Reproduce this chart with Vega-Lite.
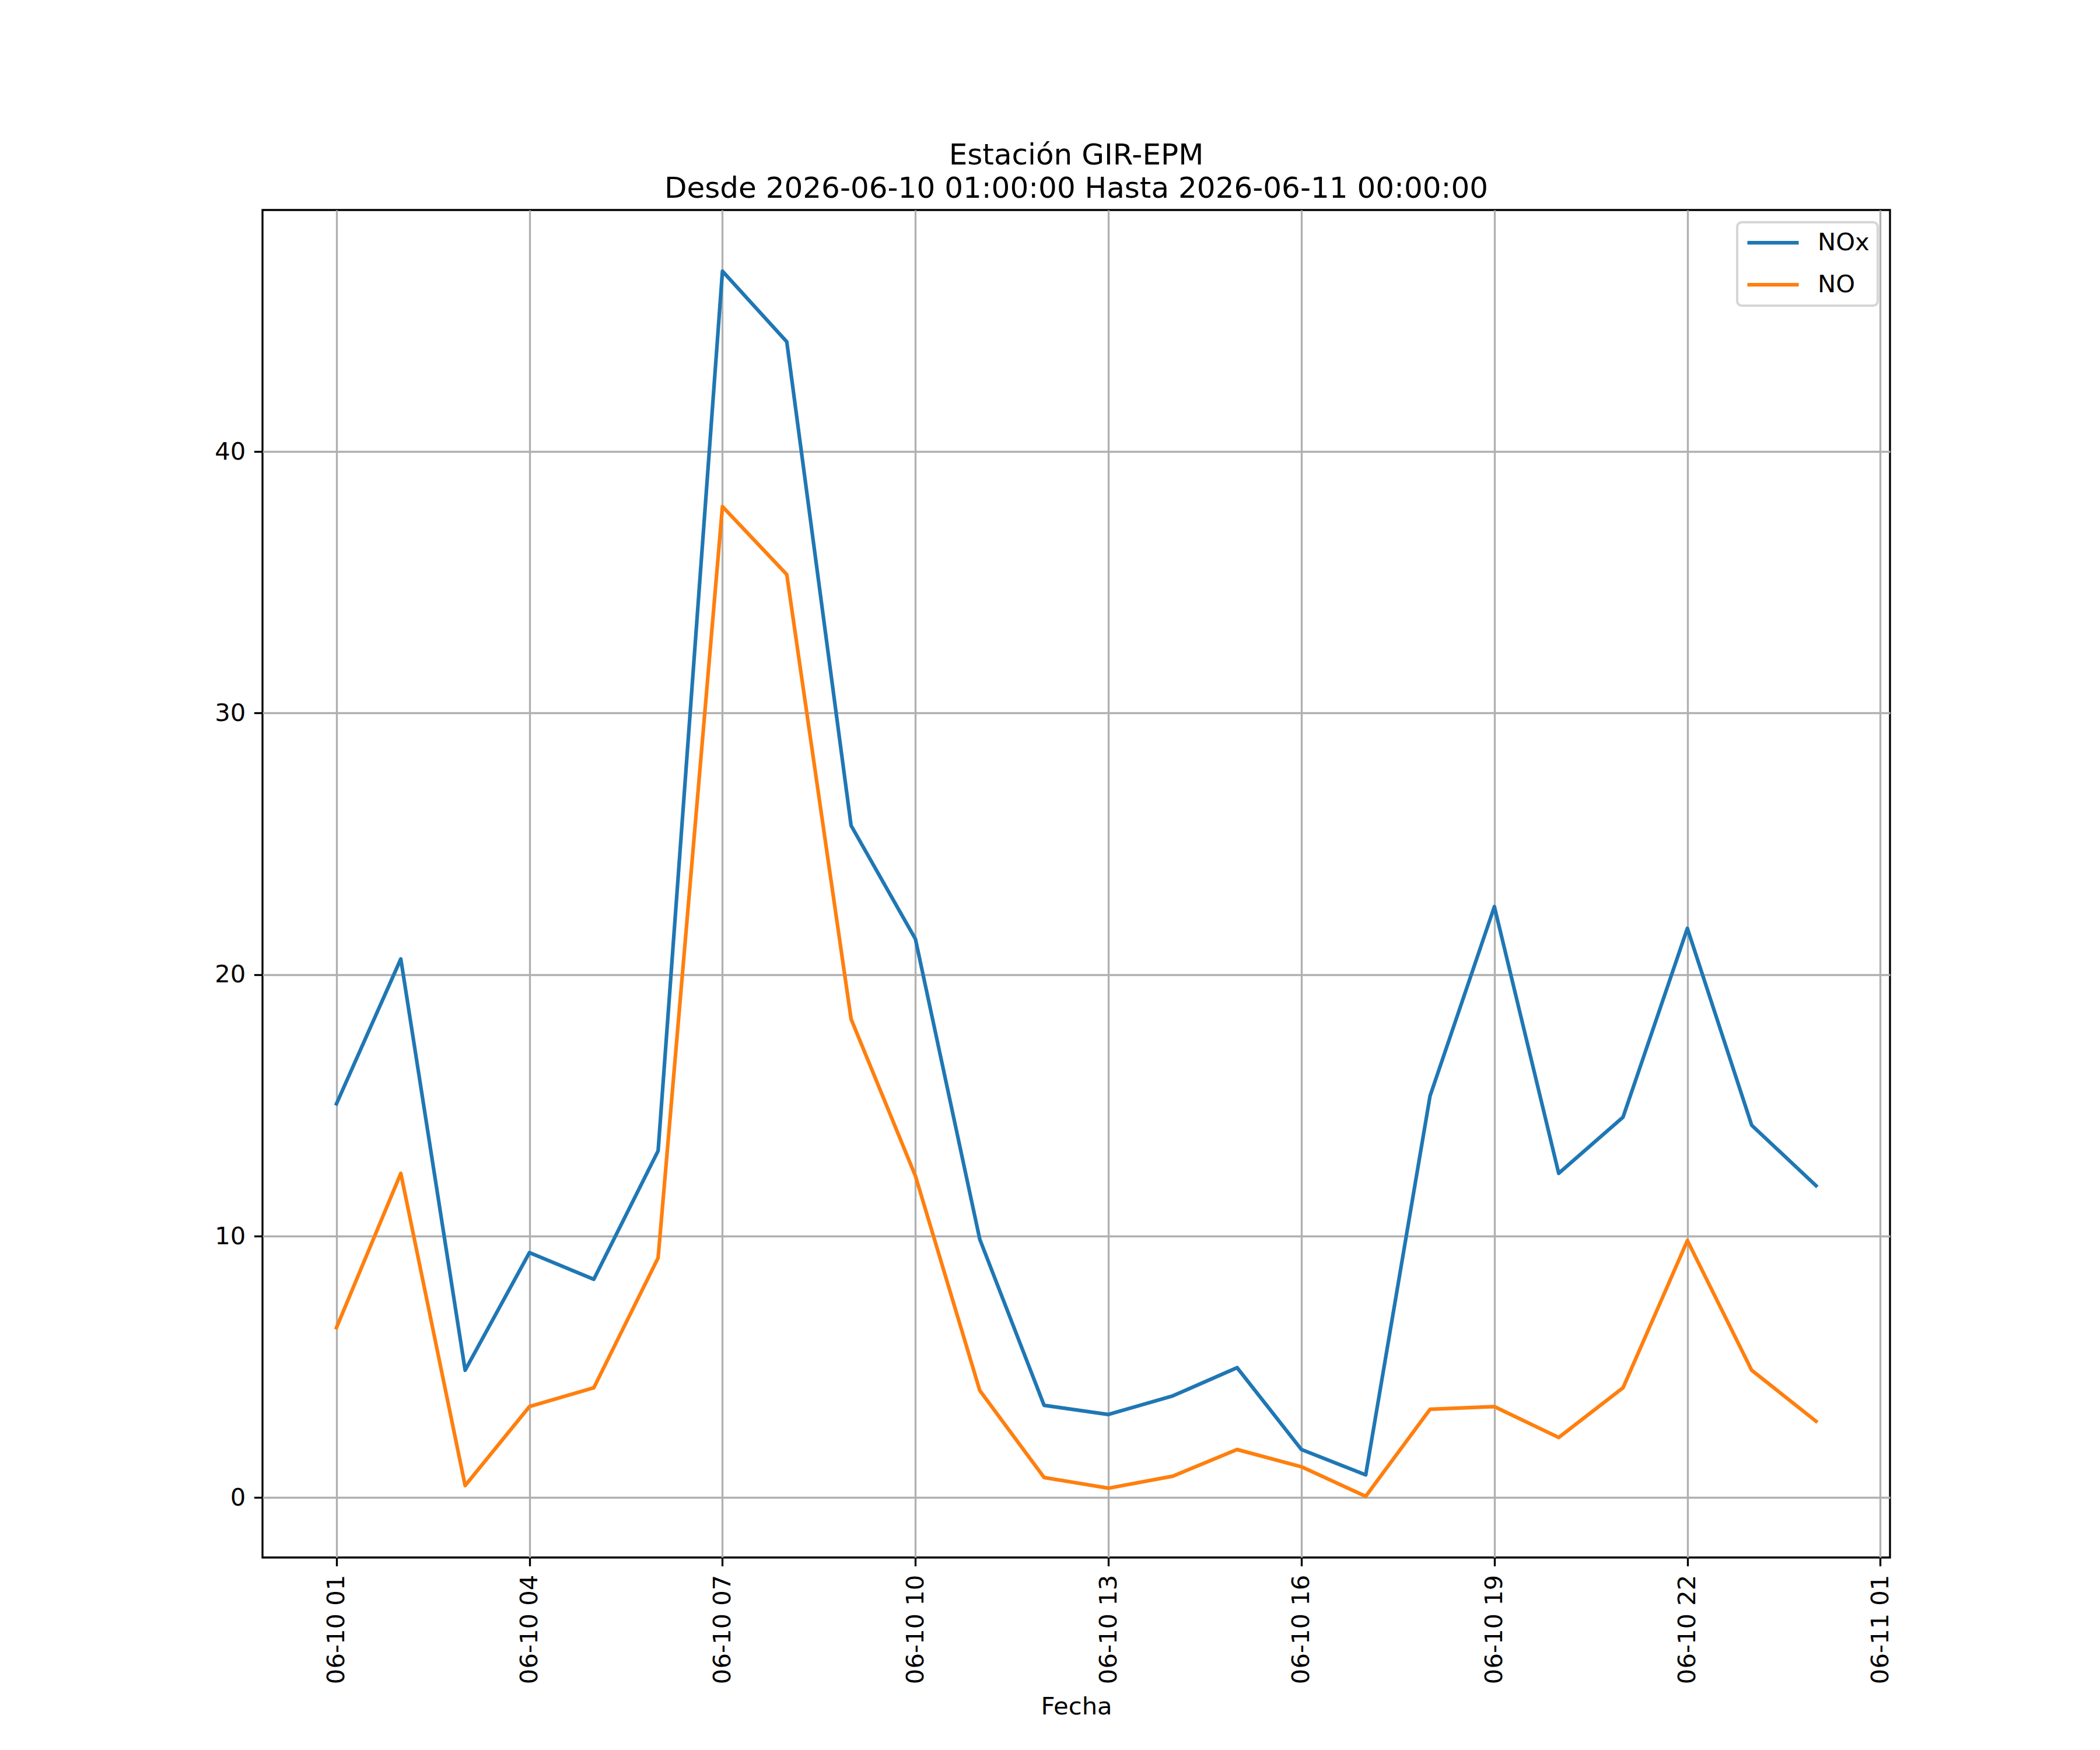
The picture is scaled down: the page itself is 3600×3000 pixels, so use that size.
{
  "$schema": "https://vega.github.io/schema/vega-lite/v6.json",
  "autosize": {"type": "none"},
  "padding": {"left": 450, "top": 360, "right": 360, "bottom": 330},
  "width": 2790,
  "height": 2310,
  "background": "white",
  "title": {
    "text": ["Estación GIR-EPM", "Desde 2026-06-10 01:00:00 Hasta 2026-06-11 00:00:00"],
    "anchor": "middle",
    "frame": "group",
    "font": "DejaVu Sans",
    "fontSize": 50,
    "fontWeight": "normal",
    "lineHeight": 57,
    "color": "black",
    "offset": 11
  },
  "data": {
    "values": [
      {"fecha": "2026-06-10T01:00:00", "serie": "NOx", "valor": 15.06},
      {"fecha": "2026-06-10T02:00:00", "serie": "NOx", "valor": 20.6},
      {"fecha": "2026-06-10T03:00:00", "serie": "NOx", "valor": 4.87},
      {"fecha": "2026-06-10T04:00:00", "serie": "NOx", "valor": 9.37},
      {"fecha": "2026-06-10T05:00:00", "serie": "NOx", "valor": 8.35},
      {"fecha": "2026-06-10T06:00:00", "serie": "NOx", "valor": 13.26},
      {"fecha": "2026-06-10T07:00:00", "serie": "NOx", "valor": 46.9},
      {"fecha": "2026-06-10T08:00:00", "serie": "NOx", "valor": 44.2},
      {"fecha": "2026-06-10T09:00:00", "serie": "NOx", "valor": 25.7},
      {"fecha": "2026-06-10T10:00:00", "serie": "NOx", "valor": 21.36},
      {"fecha": "2026-06-10T11:00:00", "serie": "NOx", "valor": 9.88},
      {"fecha": "2026-06-10T12:00:00", "serie": "NOx", "valor": 3.53},
      {"fecha": "2026-06-10T13:00:00", "serie": "NOx", "valor": 3.18},
      {"fecha": "2026-06-10T14:00:00", "serie": "NOx", "valor": 3.89},
      {"fecha": "2026-06-10T15:00:00", "serie": "NOx", "valor": 4.97},
      {"fecha": "2026-06-10T16:00:00", "serie": "NOx", "valor": 1.84},
      {"fecha": "2026-06-10T17:00:00", "serie": "NOx", "valor": 0.87},
      {"fecha": "2026-06-10T18:00:00", "serie": "NOx", "valor": 15.36},
      {"fecha": "2026-06-10T19:00:00", "serie": "NOx", "valor": 22.6},
      {"fecha": "2026-06-10T20:00:00", "serie": "NOx", "valor": 12.4},
      {"fecha": "2026-06-10T21:00:00", "serie": "NOx", "valor": 14.55},
      {"fecha": "2026-06-10T22:00:00", "serie": "NOx", "valor": 21.77},
      {"fecha": "2026-06-10T23:00:00", "serie": "NOx", "valor": 14.24},
      {"fecha": "2026-06-11T00:00:00", "serie": "NOx", "valor": 11.93},
      {"fecha": "2026-06-10T01:00:00", "serie": "NO", "valor": 6.5},
      {"fecha": "2026-06-10T02:00:00", "serie": "NO", "valor": 12.4},
      {"fecha": "2026-06-10T03:00:00", "serie": "NO", "valor": 0.46},
      {"fecha": "2026-06-10T04:00:00", "serie": "NO", "valor": 3.48},
      {"fecha": "2026-06-10T05:00:00", "serie": "NO", "valor": 4.2},
      {"fecha": "2026-06-10T06:00:00", "serie": "NO", "valor": 9.17},
      {"fecha": "2026-06-10T07:00:00", "serie": "NO", "valor": 37.9},
      {"fecha": "2026-06-10T08:00:00", "serie": "NO", "valor": 35.3},
      {"fecha": "2026-06-10T09:00:00", "serie": "NO", "valor": 18.3},
      {"fecha": "2026-06-10T10:00:00", "serie": "NO", "valor": 12.3},
      {"fecha": "2026-06-10T11:00:00", "serie": "NO", "valor": 4.1},
      {"fecha": "2026-06-10T12:00:00", "serie": "NO", "valor": 0.77},
      {"fecha": "2026-06-10T13:00:00", "serie": "NO", "valor": 0.36},
      {"fecha": "2026-06-10T14:00:00", "serie": "NO", "valor": 0.82},
      {"fecha": "2026-06-10T15:00:00", "serie": "NO", "valor": 1.84},
      {"fecha": "2026-06-10T16:00:00", "serie": "NO", "valor": 1.18},
      {"fecha": "2026-06-10T17:00:00", "serie": "NO", "valor": 0.05},
      {"fecha": "2026-06-10T18:00:00", "serie": "NO", "valor": 3.38},
      {"fecha": "2026-06-10T19:00:00", "serie": "NO", "valor": 3.48},
      {"fecha": "2026-06-10T20:00:00", "serie": "NO", "valor": 2.3},
      {"fecha": "2026-06-10T21:00:00", "serie": "NO", "valor": 4.2},
      {"fecha": "2026-06-10T22:00:00", "serie": "NO", "valor": 9.83},
      {"fecha": "2026-06-10T23:00:00", "serie": "NO", "valor": 4.87},
      {"fecha": "2026-06-11T00:00:00", "serie": "NO", "valor": 2.92}
    ]
  },
  "mark": {"type": "line", "strokeWidth": 6.25, "strokeJoin": "round", "strokeCap": "square"},
  "encoding": {
    "x": {
      "field": "fecha",
      "type": "temporal",
      "title": "Fecha",
      "scale": {
        "domain": [
          {"year": 2026, "month": 6, "date": 9, "hours": 23, "minutes": 51},
          {"year": 2026, "month": 6, "date": 11, "hours": 1, "minutes": 9}
        ]
      },
      "axis": {
        "values": [
          {"year": 2026, "month": 6, "date": 10, "hours": 1},
          {"year": 2026, "month": 6, "date": 10, "hours": 4},
          {"year": 2026, "month": 6, "date": 10, "hours": 7},
          {"year": 2026, "month": 6, "date": 10, "hours": 10},
          {"year": 2026, "month": 6, "date": 10, "hours": 13},
          {"year": 2026, "month": 6, "date": 10, "hours": 16},
          {"year": 2026, "month": 6, "date": 10, "hours": 19},
          {"year": 2026, "month": 6, "date": 10, "hours": 22},
          {"year": 2026, "month": 6, "date": 11, "hours": 1}
        ],
        "format": "%m-%d %H",
        "labelAngle": 270,
        "labelAlign": "right",
        "labelBaseline": "middle",
        "labelLimit": 0,
        "titlePadding": 35
      }
    },
    "y": {
      "field": "valor",
      "type": "quantitative",
      "title": null,
      "scale": {"domain": [-2.29, 49.24], "nice": false, "zero": false},
      "axis": {"values": [0, 10, 20, 30, 40]}
    },
    "color": {
      "field": "serie",
      "type": "nominal",
      "sort": ["NOx", "NO"],
      "scale": {"domain": ["NOx", "NO"], "range": ["#1f77b4", "#ff7f0e"]},
      "legend": {
        "title": null,
        "orient": "top-right",
        "offset": 21,
        "symbolType": "stroke",
        "symbolSize": 7744,
        "symbolStrokeWidth": 6.25,
        "clipHeight": 42,
        "rowPadding": 29,
        "labelOffset": 29,
        "padding": 14,
        "strokeColor": "#d6d6d6",
        "fillColor": "white",
        "cornerRadius": 8
      }
    }
  },
  "config": {
    "font": "DejaVu Sans",
    "view": {"stroke": "black", "strokeWidth": 3.33},
    "axis": {
      "domain": false,
      "grid": true,
      "gridColor": "#b0b0b0",
      "gridWidth": 3.33,
      "gridOpacity": 1,
      "tickColor": "black",
      "tickWidth": 3.33,
      "tickSize": 14.6,
      "labelPadding": 14.6,
      "labelFont": "DejaVu Sans",
      "labelFontSize": 41.7,
      "labelColor": "black",
      "titleFont": "DejaVu Sans",
      "titleFontSize": 41.7,
      "titleFontWeight": "normal",
      "titleColor": "black",
      "labelFlush": false,
      "labelOverlap": false
    },
    "legend": {
      "labelFont": "DejaVu Sans",
      "labelFontSize": 41.7,
      "labelColor": "black",
      "strokeWidth": 4.17
    }
  }
}
